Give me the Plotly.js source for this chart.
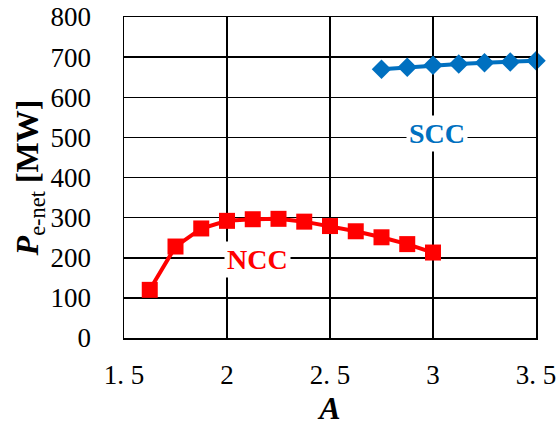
<!DOCTYPE html>
<html>
<head>
<meta charset="utf-8">
<script src="https://cdn.plot.ly/plotly-3.0.1.min.js"></script>
<style>
  html, body { margin: 0; padding: 0; background: #fff; }
  #chart { width: 559px; height: 428px; }
</style>
</head>
<body>
<div id="chart"></div>
<script>
// Net electric output versus A for the two cycles
const nccA = [1.625, 1.75, 1.875, 2.0, 2.125, 2.25, 2.375, 2.5, 2.625, 2.75, 2.875, 3.0];
const nccP = [120, 228, 273, 292, 296, 297, 290, 279, 266, 251, 234, 213];

const sccA = [2.75, 2.875, 3.0, 3.125, 3.25, 3.375, 3.5];
const sccP = [670, 675, 680, 683, 686, 688, 691];

const xTickVals = [1.5, 2, 2.5, 3, 3.5];
const xTickText = ['1. 5', '2', '2. 5', '3', '3. 5'];
const yTickVals = [0, 100, 200, 300, 400, 500, 600, 700, 800];

const serif = 'Liberation Serif, Times New Roman, serif';
const red = '#FF0000';
const blue = '#0070C0';

const traces = [
  {
    x: nccA, y: nccP, type: 'scatter', mode: 'lines+markers', name: 'NCC',
    line: { color: red, width: 4 },
    marker: { symbol: 'square', size: 16, color: red },
    cliponaxis: false
  },
  {
    x: sccA, y: sccP, type: 'scatter', mode: 'lines+markers', name: 'SCC',
    line: { color: blue, width: 4 },
    marker: { symbol: 'diamond', size: 15, color: blue },
    cliponaxis: false
  }
];

const layout = {
  width: 559, height: 428,
  margin: { l: 124, r: 23, t: 17, b: 90 },
  paper_bgcolor: '#fff', plot_bgcolor: '#fff',
  showlegend: false,
  font: { family: serif, size: 27, color: '#000' },
  xaxis: {
    range: [1.5, 3.5],
    tickvals: xTickVals, ticktext: xTickText,
    showgrid: true, gridcolor: '#000', gridwidth: 1.5,
    zeroline: false,
    showline: true, linecolor: '#000', linewidth: 1.5, mirror: true,
    ticks: '', ticklabelstandoff: 12,
    tickfont: { family: serif, size: 27 },
    title: { text: '<b><i>A</i></b>', font: { family: serif, size: 32 }, standoff: 6 }
  },
  yaxis: {
    range: [0, 800],
    tickvals: yTickVals,
    showgrid: true, gridcolor: '#000', gridwidth: 1.5,
    zeroline: false,
    showline: true, linecolor: '#000', linewidth: 1.5, mirror: true,
    ticks: '', ticklabelstandoff: 26,
    tickfont: { family: serif, size: 27 },
    title: {
      text: '<b><i>P</i></b><sub>e-net</sub> <b>[MW]</b>',
      font: { family: serif, size: 32 }, standoff: 2
    }
  },
  annotations: [
    {
      x: 2.15, y: 195, xref: 'x', yref: 'y', text: '<b>NCC</b>', showarrow: false,
      font: { family: serif, size: 28, color: red }, bgcolor: '#fff', borderpad: 2
    },
    {
      x: 3.02, y: 510, xref: 'x', yref: 'y', text: '<b>SCC</b>', showarrow: false,
      font: { family: serif, size: 28, color: blue }, bgcolor: '#fff', borderpad: 2
    }
  ]
};

Plotly.newPlot('chart', traces, layout, { displayModeBar: false, staticPlot: true });
</script>
</body>
</html>
